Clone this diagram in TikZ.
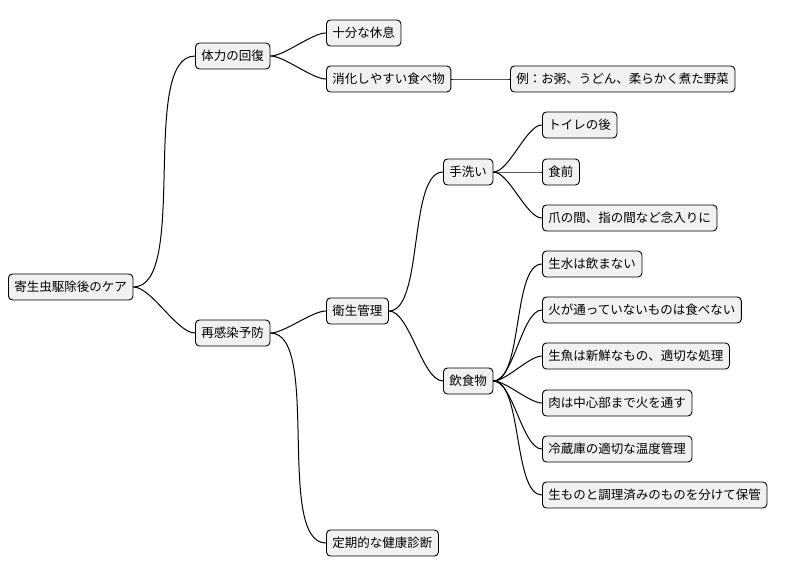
\documentclass[tikz,border=0pt]{standalone}
\usepackage{fontspec}
\newfontfamily\cjk{Noto Sans CJK JP}
\begin{document}
\begin{tikzpicture}[x=1pt,y=-1pt,
  box/.style={draw=black,fill={rgb,255:red,241;green,241;blue,241},rounded corners=4pt,line width=0.9pt,minimum height=26pt,inner xsep=6pt,anchor=west,font=\cjk\fontsize{12.5}{14}\selectfont},
  con/.style={line width=1pt,draw=black}]
\useasboundingbox (0,0) rectangle (802,576);
\node[box] (r) at (8,287) {寄生虫駆除後のケア};
\node[box] (a) at (195,56) {体力の回復};
\node[box] (a1) at (326,33) {十分な休息};
\node[box] (a2) at (326,79) {消化しやすい食べ物};
\node[box] (a21) at (510,79) {例：お粥、うどん、柔らかく煮た野菜};
\node[box] (b) at (195,333) {再感染予防};
\node[box] (b1) at (326,311) {衛生管理};
\node[box] (b2) at (326,543) {定期的な健康診断};
\node[box] (h) at (443,172) {手洗い};
\node[box] (h1) at (542,125) {トイレの後};
\node[box] (h2) at (542,172) {食前};
\node[box] (h3) at (542,218) {爪の間、指の間など念入りに};
\node[box] (f) at (443,381) {飲食物};
\node[box] (f1) at (542,264) {生水は飲まない};
\node[box] (f2) at (542,310) {火が通っていないものは食べない};
\node[box] (f3) at (542,356) {生魚は新鮮なもの、適切な処理};
\node[box] (f4) at (542,403) {肉は中心部まで火を通す};
\node[box] (f5) at (542,449) {冷蔵庫の適切な温度管理};
\node[box] (f6) at (542,495) {生ものと調理済みのものを分けて保管};
\foreach \p/\c in {r/a,r/b,a/a1,a/a2,a2/a21,b/b1,b/b2,b1/h,b1/f,h/h1,h/h2,h/h3,f/f1,f/f2,f/f3,f/f4,f/f5,f/f6}
  \draw[con] (\p.east) to[out=0,in=180,looseness=0.6] (\c.west);
\end{tikzpicture}
\end{document}
